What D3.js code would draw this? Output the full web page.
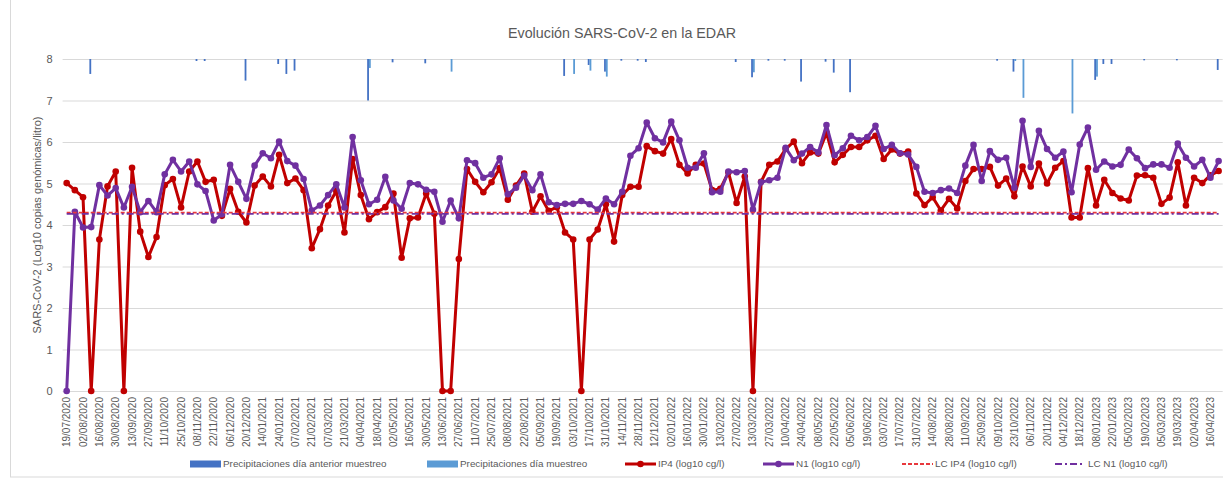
<!DOCTYPE html>
<html><head><meta charset="utf-8">
<script src="https://cdn.jsdelivr.net/npm/d3@7"></script>
<style>
html,body{margin:0;padding:0;background:#fff;}
text{font-family:"Liberation Sans",Arial,sans-serif;fill:#595959;}
</style></head>
<body><svg id="chart" width="1223" height="483"></svg>
<script>
const title = "Evolución SARS-CoV-2 en la EDAR";
const yAxisTitle = "SARS-CoV-2 (Log10 copias genómicas/litro)";
const yTicks = [0,1,2,3,4,5,6,7,8];

const categories = [
"19/07/2020","26/07/2020","02/08/2020","09/08/2020","16/08/2020","23/08/2020","30/08/2020","06/09/2020","13/09/2020","20/09/2020",
"27/09/2020","04/10/2020","11/10/2020","18/10/2020","25/10/2020","01/11/2020","08/11/2020","15/11/2020","22/11/2020","29/11/2020",
"06/12/2020","13/12/2020","20/12/2020","03/01/2021","14/01/2021","19/01/2021","24/01/2021","31/01/2021","07/02/2021","14/02/2021",
"21/02/2021","28/02/2021","07/03/2021","14/03/2021","21/03/2021","28/03/2021","04/04/2021","11/04/2021","18/04/2021","25/04/2021",
"02/05/2021","09/05/2021","16/05/2021","23/05/2021","30/05/2021","06/06/2021","13/06/2021","20/06/2021","27/06/2021","04/07/2021",
"11/07/2021","18/07/2021","25/07/2021","01/08/2021","08/08/2021","15/08/2021","22/08/2021","29/08/2021","05/09/2021","12/09/2021",
"19/09/2021","26/09/2021","03/10/2021","10/10/2021","17/10/2021","24/10/2021","31/10/2021","07/11/2021","14/11/2021","21/11/2021",
"28/11/2021","05/12/2021","12/12/2021","19/12/2021","02/01/2022","09/01/2022","16/01/2022","23/01/2022","30/01/2022","06/02/2022",
"13/02/2022","20/02/2022","27/02/2022","06/03/2022","13/03/2022","20/03/2022","27/03/2022","03/04/2022","10/04/2022","17/04/2022",
"24/04/2022","01/05/2022","08/05/2022","15/05/2022","22/05/2022","29/05/2022","05/06/2022","12/06/2022","19/06/2022","26/06/2022",
"03/07/2022","10/07/2022","17/07/2022","24/07/2022","31/07/2022","07/08/2022","14/08/2022","21/08/2022","28/08/2022","04/09/2022",
"11/09/2022","18/09/2022","25/09/2022","02/10/2022","09/10/2022","16/10/2022","23/10/2022","30/10/2022","06/11/2022","13/11/2022",
"20/11/2022","27/11/2022","04/12/2022","11/12/2022","18/12/2022","01/01/2023","08/01/2023","15/01/2023","22/01/2023","29/01/2023",
"05/02/2023","12/02/2023","19/02/2023","26/02/2023","05/03/2023","12/03/2023","19/03/2023","26/03/2023","02/04/2023","09/04/2023",
"16/04/2023","23/04/2023"];

// IP4 (log10 cg/l)
const ip4 = [
5.01,4.84,4.67,0,3.65,4.93,5.29,0,5.38,3.84, 3.23,3.71,4.96,5.11,4.42,5.29,5.53,5.04,5.09,4.22,
4.87,4.32,4.06,4.95,5.17,4.93,5.69,5.01,5.12,4.84, 3.44,3.90,4.47,4.82,3.82,5.59,4.72,4.14,4.31,4.43,
4.76,3.21,4.16,4.18,4.76,4.27,0,0,3.18,5.35, 5.04,4.79,5.03,5.37,4.61,4.95,5.24,4.32,4.69,4.34,
4.43,3.82,3.65,0,3.65,3.89,4.50,3.60,4.72,4.92, 4.92,5.90,5.78,5.72,6.07,5.45,5.24,5.45,5.48,4.84,
4.87,5.27,4.53,5.17,0,5.04,5.45,5.53,5.83,6.01, 5.49,5.75,5.72,6.22,5.51,5.69,5.88,5.88,6.04,6.15,
5.59,5.82,5.72,5.77,4.76,4.48,4.67,4.35,4.63,4.40, 5.06,5.35,5.35,5.40,4.95,5.12,4.69,5.41,4.93,5.48,
5.00,5.38,5.54,4.18,4.18,5.37,4.47,5.09,4.77,4.64, 4.59,5.19,5.20,5.14,4.51,4.66,5.51,4.47,5.14,5.01,
5.20,5.30];

// N1 (log10 cg/l)
const n1 = [
0,4.32,3.94,3.95,4.96,4.71,4.89,4.42,4.92,4.31, 4.58,4.31,5.22,5.57,5.29,5.53,4.98,4.82,4.11,4.26,
5.45,5.04,4.63,5.43,5.73,5.61,6.01,5.54,5.43,5.11, 4.35,4.47,4.72,4.98,4.42,6.12,5.08,4.50,4.61,5.16,
4.59,4.39,5.01,4.98,4.85,4.80,4.08,4.59,4.16,5.56, 5.49,5.14,5.22,5.61,4.74,4.90,5.19,4.84,5.22,4.55,
4.48,4.51,4.51,4.58,4.50,4.37,4.64,4.50,4.80,5.67, 5.85,6.47,6.09,5.99,6.49,6.04,5.38,5.38,5.73,4.79,
4.80,5.29,5.27,5.30,4.37,5.03,5.08,5.14,5.86,5.56, 5.72,5.88,5.75,6.41,5.68,5.85,6.15,6.04,6.12,6.39,
5.83,5.93,5.73,5.70,5.40,4.80,4.77,4.84,4.88,4.77, 5.43,5.93,5.06,5.78,5.57,5.62,4.90,6.51,5.40,6.27,
5.83,5.62,5.77,4.79,5.94,6.35,5.33,5.53,5.41,5.45, 5.82,5.61,5.37,5.46,5.46,5.38,5.96,5.62,5.41,5.57,
5.14,5.54];

const lcIP4 = 4.30;
const lcN1 = 4.27;

// Precipitation (mm), hanging from the top of the plot
const precipAnterior = [
0,0,0,4.5,0,0,0,0,0,0, 0,0,0,0,0,0,0.6,0.6,0,0,
0,0,6.5,0,0,0,1.5,4.5,3.5,0, 0,0,0,0,0,0,0,12.5,0,0,
1.0,0,0,0,1.3,0,0,0,0,0, 0,0,0,0,0,0,0,0,0,0,
0,5.1,0,0,1.8,0,3.8,0,0.5,0, 0.5,0.9,0,0,0,0,0,0,0,0,
0,0,0.9,0,5.5,0,0.5,0,0.5,0, 6.8,0,0,0.8,4.1,0,10.0,0,0,0,
0,0,0,0,0,0,0,0,0,0, 0,0,0,0,0.5,0,3.8,0,0,0,
0,0,0,0,0,0,6.3,1.5,1.5,0, 0,0,0.4,0,0,0,0.4,0,0,0,
0,3.3];
const precipMuestreo = [
0,0,0,0,0,0,0,0,0,0, 0,0,0,0,0,0,0,0,0,0,
0,0,0,0,0,0,0,0,0,0, 0,0,0,0,0,0,0,2.7,0,0,
0,0,0,0,0,0,0,3.8,0,0, 0,0,0,0,0,0,0,0,0,0,
0,0,4.5,0,3.5,0,5.3,0,0,0, 0,0,0,0,0,0,0,0,0,0,
0,0,0,0,4.0,0,0,0,0,0, 0,0,0,0,0,0,0,0,0,0,
0,0,0,0,0,0,0,0,0,0, 0,0,0,0,0,0,0.6,11.7,0,0,
0,0,0,16.4,0,0,5.3,0,0,0, 0,0,0,0,0,0,0,0,0,0,
0,0];

const seriesNames = ["Precipitaciones día anterior muestreo","Precipitaciones día muestreo","IP4 (log10 cg/l)","N1 (log10 cg/l)","LC IP4 (log10 cg/l)","LC N1 (log10 cg/l)"];

const C = {dark:"#4472C4", light:"#5B9BD5", red:"#C00000", purple:"#7030A0", lcRed:"#E8383D", lcPurple:"#7030A0", grid:"#D9D9D9"};

const svg = d3.select("#chart");
const L = 62.6, R = 1222.7, T = 59, B = 391;

svg.append("rect").attr("x",10.5).attr("y",-1).attr("width",1230).attr("height",478)
  .attr("fill","none").attr("stroke","#D9D9D9");

const x = d3.scaleBand().domain(d3.range(categories.length)).range([L,R]).padding(0);
const cx = i => x(i) + x.bandwidth()/2;
const y = d3.scaleLinear().domain([0,8]).range([B,T]);
const yP = d3.scaleLinear().domain([0,100]).range([T,B]);

// gridlines
svg.append("g").selectAll("line").data(yTicks).join("line")
  .attr("x1",L).attr("x2",R).attr("y1",d=>y(d)+0.5).attr("y2",d=>y(d)+0.5)
  .attr("stroke",C.grid).attr("stroke-width",1);

// y tick labels
const yAxis = svg.append("g").attr("transform",`translate(${L-8},0)`)
  .call(d3.axisLeft(y).tickValues(yTicks).tickSize(0).tickFormat(d3.format("d")));
yAxis.select(".domain").remove();
yAxis.selectAll("text").attr("font-size","11px").attr("fill","#595959").attr("x",-2)
  .style("font-family","'Liberation Sans',Arial,sans-serif");

// x axis
const xAxis = svg.append("g").attr("transform",`translate(0,${B})`)
  .call(d3.axisBottom(x).tickValues(d3.range(0,categories.length,2)).tickSize(0).tickFormat(i=>categories[i]));
xAxis.select(".domain").remove();
xAxis.selectAll("text")
  .attr("transform","rotate(-90)").attr("text-anchor","end")
  .attr("x",-6).attr("y",0).attr("dy","0.35em")
  .attr("font-size","10px").attr("fill","#595959")
  .style("font-family","'Liberation Sans',Arial,sans-serif");

// precipitation bars
const bw = 1.8;
svg.append("g").selectAll("rect").data(precipAnterior.map((v,i)=>({v,i})).filter(d=>d.v>0)).join("rect")
  .attr("x",d=>cx(d.i)-bw).attr("width",bw).attr("y",T).attr("height",d=>yP(d.v)-T).attr("fill",C.dark);
svg.append("g").selectAll("rect").data(precipMuestreo.map((v,i)=>({v,i})).filter(d=>d.v>0)).join("rect")
  .attr("x",d=>cx(d.i)).attr("width",bw).attr("y",T).attr("height",d=>yP(d.v)-T).attr("fill",C.light);

// lines
const line = d3.line().x((d,i)=>cx(i)).y(d=>y(d));
function drawSeries(data,color){
  const g = svg.append("g");
  g.append("path").attr("d",line(data)).attr("fill","none").attr("stroke",color)
    .attr("stroke-width",3).attr("stroke-linejoin","round");
  g.selectAll("circle").data(data).join("circle").attr("cx",(d,i)=>cx(i)).attr("cy",d=>y(d))
    .attr("r",3.3).attr("fill",color);
}
drawSeries(ip4,C.red);
drawSeries(n1,C.purple);

// LC lines
svg.append("line").attr("x1",cx(0)).attr("x2",cx(categories.length-1)).attr("y1",y(lcIP4)).attr("y2",y(lcIP4))
  .attr("stroke",C.lcRed).attr("stroke-width",1.8).attr("stroke-dasharray","4,2");
svg.append("line").attr("x1",cx(0)).attr("x2",cx(categories.length-1)).attr("y1",y(lcN1)).attr("y2",y(lcN1))
  .attr("stroke",C.lcPurple).attr("stroke-width",1.8).attr("stroke-dasharray","7,3,2,3");

// title
svg.append("text").attr("x",622).attr("y",38).attr("text-anchor","middle")
  .attr("font-size","14.3px").attr("fill","#595959").text(title);

// y-axis title
svg.append("text").attr("transform",`translate(41,${(T+B)/2}) rotate(-90)`).attr("text-anchor","middle")
  .attr("font-size","11px").attr("fill","#595959").text(yAxisTitle);

// legend
const ly = 464;
const lg = svg.append("g").attr("font-size","9.9px");
const legendItems = [
  {x:190, type:"bar", color:C.dark, name:seriesNames[0]},
  {x:427, type:"bar", color:C.light, name:seriesNames[1]},
  {x:625, type:"marker", color:C.red, name:seriesNames[2]},
  {x:763, type:"marker", color:C.purple, name:seriesNames[3]},
  {x:902, type:"dash", color:C.lcRed, name:seriesNames[4]},
  {x:1055, type:"dashdot", color:C.lcPurple, name:seriesNames[5]}
];
legendItems.forEach(it=>{
  const g = lg.append("g");
  if(it.type==="bar"){
    g.append("rect").attr("x",it.x).attr("y",ly-3.5).attr("width",31).attr("height",7).attr("fill",it.color);
  } else if(it.type==="marker"){
    g.append("line").attr("x1",it.x).attr("x2",it.x+31).attr("y1",ly).attr("y2",ly).attr("stroke",it.color).attr("stroke-width",3);
    g.append("circle").attr("cx",it.x+15.5).attr("cy",ly).attr("r",3.3).attr("fill",it.color);
  } else if(it.type==="dash"){
    g.append("line").attr("x1",it.x).attr("x2",it.x+31).attr("y1",ly).attr("y2",ly).attr("stroke",it.color).attr("stroke-width",1.8).attr("stroke-dasharray","4,2");
  } else {
    g.append("line").attr("x1",it.x).attr("x2",it.x+28).attr("y1",ly).attr("y2",ly).attr("stroke",it.color).attr("stroke-width",1.8).attr("stroke-dasharray","7,3,2,3");
  }
  g.append("text").attr("x",it.x+33).attr("y",ly).attr("dy","0.35em").attr("fill","#595959").text(it.name);
});
</script></body></html>
